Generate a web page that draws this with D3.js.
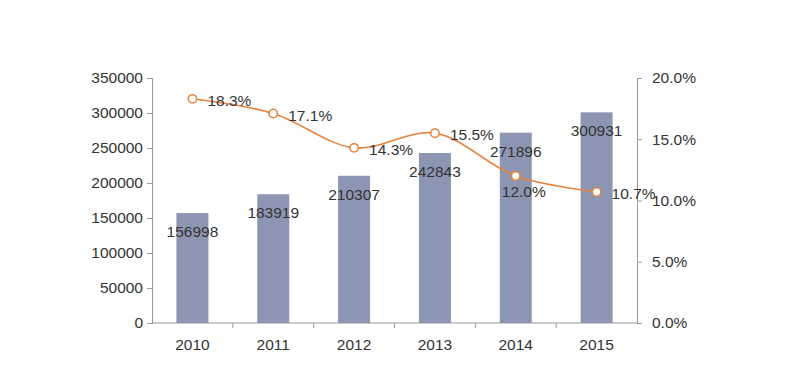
<!DOCTYPE html>
<html lang="en">
<head>
<meta charset="UTF-8">
<script src="https://cdn.jsdelivr.net/npm/d3@7"></script>
<title>bar line</title>
<style>
    body { margin: 0; background: #fff; }
    text { font-family: "Liberation Sans", Arial, sans-serif; fill: #333; }
    .axis text { font-size: 15.5px; }
    .axis path, .axis line { stroke: #999; }
    .lbl { font-size: 15.5px; }
</style>
</head>
<body>
<div id="chart"></div>
<script>
    var years = ["2010", "2011", "2012", "2013", "2014", "2015"];
    var counts = [156998, 183919, 210307, 242843, 271896, 300931];
    var growth = [18.3, 17.1, 14.3, 15.5, 12.0, 10.7];
    var leftTicks = [0, 50000, 100000, 150000, 200000, 250000, 300000, 350000];
    var rightTicks = [0, 5, 10, 15, 20];

    var W = 793, H = 370;
    var margin = {top: 78, right: 156, bottom: 47, left: 152};
    var width = W - margin.left - margin.right;
    var height = H - margin.top - margin.bottom;

    var svg = d3.select("#chart").append("svg")
        .attr("width", W).attr("height", H)
        .append("g")
        .attr("transform", "translate(" + margin.left + "," + margin.top + ")");

    var x = d3.scaleBand().domain(years).range([0, width]);
    var y = d3.scaleLinear().domain([0, 350000]).range([height, 0]);
    var y2 = d3.scaleLinear().domain([0, 20]).range([height, 0]);

    // axes
    svg.append("g").attr("class", "axis")
        .call(d3.axisLeft(y).tickValues(leftTicks).tickSize(5).tickPadding(4).tickFormat(d3.format("d")));
    svg.append("g").attr("class", "axis")
        .attr("transform", "translate(" + width + ",0)")
        .call(d3.axisRight(y2).tickValues(rightTicks).tickSize(5).tickPadding(10).tickFormat(d => d.toFixed(1) + "%"));

    var xg = svg.append("g").attr("class", "axis")
        .attr("transform", "translate(0," + height + ")");
    xg.append("line").attr("x1", 0).attr("x2", width).attr("stroke", "#999");
    xg.selectAll(".sep").data(years.slice(1)).enter().append("line")
        .attr("x1", d => x(d)).attr("x2", d => x(d))
        .attr("y1", 0).attr("y2", 5).attr("stroke", "#999");
    xg.selectAll(".yr").data(years).enter().append("text")
        .attr("x", d => x(d) + x.bandwidth() / 2)
        .attr("y", 27)
        .attr("text-anchor", "middle")
        .text(d => d);

    // bars
    var bw = 32;
    svg.selectAll(".bar").data(counts).enter().append("rect")
        .attr("x", (d, i) => x(years[i]) + x.bandwidth() / 2 - bw / 2)
        .attr("y", d => y(d))
        .attr("width", bw)
        .attr("height", d => height - y(d))
        .attr("fill", "#8c96b3");

    svg.selectAll(".blbl").data(counts).enter().append("text")
        .attr("class", "lbl")
        .attr("x", (d, i) => x(years[i]) + x.bandwidth() / 2)
        .attr("y", d => y(d) + 24)
        .attr("text-anchor", "middle")
        .text(d => d);

    // line
    var line = d3.line()
        .x((d, i) => x(years[i]) + x.bandwidth() / 2)
        .y(d => y2(d))
        .curve(d3.curveCatmullRom);
    svg.append("path").datum(growth)
        .attr("d", line)
        .attr("fill", "none")
        .attr("stroke", "#e8833f")
        .attr("stroke-width", 1.6);
    svg.selectAll(".dot").data(growth).enter().append("circle")
        .attr("cx", (d, i) => x(years[i]) + x.bandwidth() / 2)
        .attr("cy", d => y2(d))
        .attr("r", 4.2)
        .attr("fill", "#fff")
        .attr("stroke", "#e8833f")
        .attr("stroke-width", 1.5);

    svg.selectAll(".plbl").data(growth).enter().append("text")
        .attr("class", "lbl")
        .attr("x", (d, i) => x(years[i]) + x.bandwidth() / 2 + (i == 4 ? 8 : 15))
        .attr("y", (d, i) => y2(d) + (i == 4 ? 21 : 7))
        .attr("text-anchor", (d, i) => i == 4 ? "middle" : "start")
        .text(d => d.toFixed(1) + "%");
</script>
</body>
</html>
